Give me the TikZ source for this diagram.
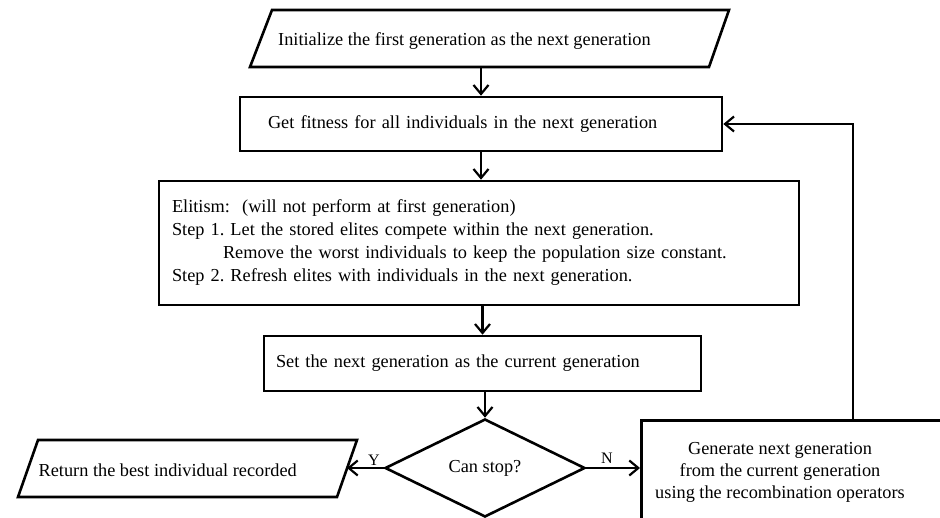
\documentclass[tikz,border=0pt]{standalone}
\usepackage{fontspec}
\setmainfont{Liberation Serif}
\usetikzlibrary{arrows.meta,shapes.geometric}
\frenchspacing
\begin{document}
\begin{tikzpicture}[x=1pt,y=-1pt,
  txt/.style={font=\fontsize{18.3}{23}\selectfont, inner sep=0pt},
  box/.style={draw, line width=2.6pt, rectangle, inner ysep=0pt, align=left,
    font=\fontsize{18.3}{23}\selectfont},
  outline/.style={draw, line width=2.6pt, line join=miter},
  flow/.style={line width=2.2pt, -{Straight Barb[length=9pt,width=15pt,line width=2.2pt]}},
  tag/.style={font=\fontsize{16}{16}\selectfont, inner sep=0pt}
]
\useasboundingbox (0,0) rectangle (940,518);
\clip (0,0) rectangle (940,518);

% input: initial generation
\draw[outline] (250,67) -- (272,10) -- (729,10) -- (709,67) -- cycle;
\node[txt, anchor=west] (init) at (278,41) {Initialize the first generation as the next generation};
\coordinate (inits) at (481,67);

% fitness evaluation
\node[box, minimum width=482pt, minimum height=54pt, text width=426pt, inner xsep=28pt]
  (fit) at (481,124) {Get fitness for all individuals in the next generation};

% elitism
\node[box, minimum width=640pt, minimum height=124pt, text width=614pt, inner xsep=13pt]
  (elite) at (479,243) {Elitism:\ \ (will not perform at first generation)\\
Step 1. Let the stored elites compete within the next generation.\\
\hspace*{51pt}Remove the worst individuals to keep the population size constant.\\
Step 2. Refresh elites with individuals in the next generation.};

% generation swap
\node[box, minimum width=437pt, minimum height=55pt, text width=413pt, inner xsep=12pt]
  (swap) at (482.5,363.5) {Set the next generation as the current generation};

% decision
\node[diamond, draw, line width=2.6pt, minimum width=200pt, minimum height=98pt,
  inner sep=0pt, font=\fontsize{18.3}{23}\selectfont] (stop) at (485,468) {Can stop?};

% output: best individual
\draw[outline] (18,497) -- (38,440) -- (357,440) -- (337,497) -- cycle;
\coordinate (rete) at (347,468);
\node[txt, anchor=east] (ret) at (297,470) {Return the best individual recorded};

% recombination
\node[box, minimum width=320pt, minimum height=130pt, anchor=north west] (gen) at (640,419) {};
\node[txt, align=center, font=\fontsize{18.3}{22}\selectfont] (gentext) at (780,472)
  {Generate next generation\\from the current generation\\using the recombination operators};
\coordinate (loopx) at (853,0);

% connectors
\draw[flow] (inits) -- (inits |- fit.north);
\draw[flow] (fit.south) -- (fit.south |- elite.north);
\draw[flow] (swap.north |- elite.south) -- (swap.north);
\draw[flow] (stop.north |- swap.south) -- (stop.north);
\draw[flow] (stop.west) -- (rete);
\draw[flow] (stop.east) -- (stop.east -| gen.west);
\draw[flow] (gen.north -| loopx) |- (fit.east);

% branch labels
\node[tag] (ylab) at (374,460) {Y};
\node[tag] (nlab) at (607,458) {N};
\end{tikzpicture}
\end{document}
